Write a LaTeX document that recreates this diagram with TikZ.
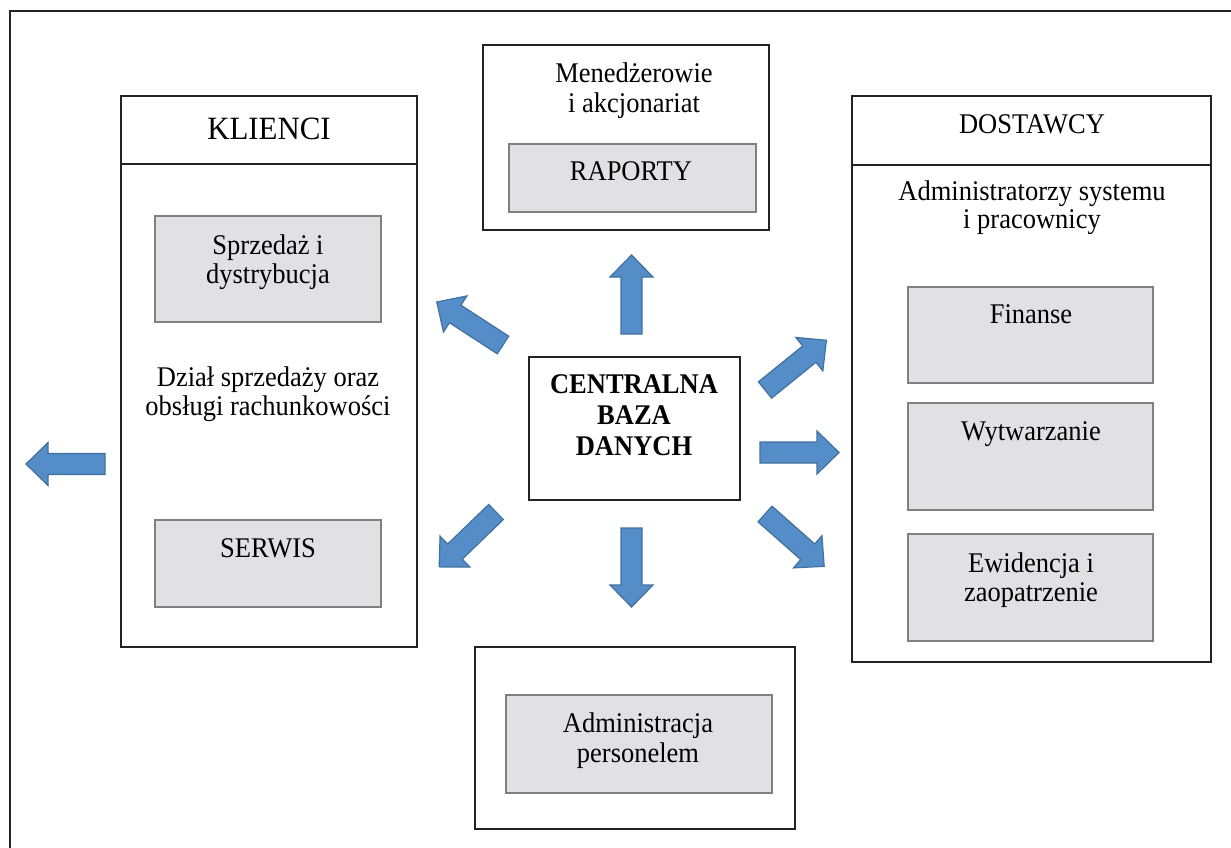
\documentclass[tikz,border=0pt]{standalone}
\usepackage{fontspec}
\setmainfont{Liberation Serif}
\newfontfamily\narrowfont[FakeStretch=0.93]{Liberation Serif}
\newfontfamily\narrowfontk[FakeStretch=0.95]{Liberation Serif}
\definecolor{arrowfill}{RGB}{84,141,199}
\definecolor{arrowline}{RGB}{65,113,160}
\definecolor{boxfill}{RGB}{225,225,227}
\definecolor{boxline}{RGB}{128,128,128}
\definecolor{frameline}{RGB}{35,35,35}
\tikzset{
  framebox/.style={draw=frameline,line width=1.8pt,fill=white,inner sep=0pt,outer sep=0pt},
  greybox/.style={draw=boxline,line width=2pt,fill=boxfill,inner sep=0pt,outer sep=0pt},
  txt/.style={anchor=base,inner sep=0pt,font=\narrowfont\fontsize{28.5}{31}\selectfont},
  bigtxt/.style={anchor=base,inner sep=0pt,font=\narrowfontk\fontsize{32.5}{35}\selectfont},
  boldtxt/.style={anchor=base,inner sep=0pt,font=\narrowfont\fontsize{28.5}{31}\selectfont\bfseries},
  blockarrow/.pic={\path[draw=arrowline,line width=1.2pt,fill=arrowfill,line join=miter]
    (0,-10.5) -- (57,-10.5) -- (57,-21.5) -- (79,0) -- (57,21.5) -- (57,10.5) -- (0,10.5) -- cycle;}
}
\begin{document}
\begin{tikzpicture}[x=1pt,y=-1pt]
\clip (0,0) rectangle (1231,847);
\fill[white] (0,0) rectangle (1231,847);
% outer frame
\draw[draw=frameline,line width=1.8pt] (10,11) rectangle (1300,900);

% KLIENCI
\node[framebox,minimum width=296pt,minimum height=551pt] (klienci) at (269,371.5) {};
\coordinate (kdiv) at (0,164);
\draw[draw=frameline,line width=1.8pt] (klienci.west |- kdiv) -- (klienci.east |- kdiv);
\node[bigtxt] (tklienci) at (269,139) {KLIENCI};
\node[greybox,minimum width=226pt,minimum height=106pt] (sprzedaz) at (268,269) {};
\node[txt] (ts1) at (268,254) {Sprzedaż i};
\node[txt] (ts2) at (268,283) {dystrybucja};
\node[txt] (td1) at (268,386) {Dział sprzedaży oraz};
\node[txt] (td2) at (268,415) {obsługi rachunkowości};
\node[greybox,minimum width=226pt,minimum height=87pt] (serwis) at (268,563.5) {};
\node[txt] (tserwis) at (268,557) {SERWIS};

% Menedzerowie
\node[framebox,minimum width=286pt,minimum height=185pt] (menedz) at (626,137.5) {};
\node[txt] (tm1) at (634,82) {Menedżerowie};
\node[txt] (tm2) at (634,112) {i akcjonariat};
\node[greybox,minimum width=247pt,minimum height=68pt] (raporty) at (632.5,178) {};
\node[txt] (traporty) at (631,180) {RAPORTY};

% DOSTAWCY
\node[framebox,minimum width=359pt,minimum height=566pt] (dostawcy) at (1031.5,379) {};
\coordinate (ddiv) at (0,165);
\draw[draw=frameline,line width=1.8pt] (dostawcy.west |- ddiv) -- (dostawcy.east |- ddiv);
\node[txt] (tdost) at (1032,133) {DOSTAWCY};
\node[txt] (ta1) at (1032,200) {Administratorzy systemu};
\node[txt] (ta2) at (1032,228) {i pracownicy};
\node[greybox,minimum width=245pt,minimum height=96pt] (finanse) at (1030.5,335) {};
\node[txt] (tfin) at (1031,323) {Finanse};
\node[greybox,minimum width=245pt,minimum height=107pt] (wytw) at (1030.5,456.5) {};
\node[txt] (twyt) at (1031,440) {Wytwarzanie};
\node[greybox,minimum width=245pt,minimum height=107pt] (ewid) at (1030.5,587.5) {};
\node[txt] (te1) at (1031,572) {Ewidencja i};
\node[txt] (te2) at (1031,601) {zaopatrzenie};

% Central
\node[framebox,minimum width=211pt,minimum height=143pt] (central) at (634.5,428.5) {};
\node[boldtxt] (tc1) at (634,393) {CENTRALNA};
\node[boldtxt] (tc2) at (634,424) {BAZA};
\node[boldtxt] (tc3) at (634,455) {DANYCH};

% Administracja
\node[framebox,minimum width=320pt,minimum height=182pt] (admin) at (635,738) {};
\node[greybox,minimum width=266pt,minimum height=98pt] (adminp) at (639,744) {};
\node[txt] (tad1) at (638,732) {Administracja};
\node[txt] (tad2) at (638,762) {personelem};

% block arrows (tail position, direction)
\pic[rotate=90] at (631.5,334) {blockarrow};
\pic[rotate=-90] at (631.5,528) {blockarrow};
\pic[rotate=0] at (760,452.5) {blockarrow};
\pic[rotate=180] at (105,464) {blockarrow};
\pic[rotate=147] at (503,345) {blockarrow};
\pic[rotate=39] at (765,390) {blockarrow};
\pic[rotate=224] at (496,512) {blockarrow};
\pic[rotate=-41.5] at (765,514) {blockarrow};
\end{tikzpicture}
\end{document}
